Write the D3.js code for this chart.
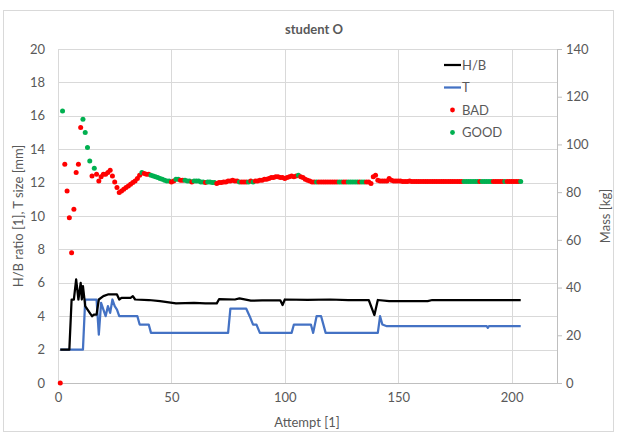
<!DOCTYPE html>
<html>
<head>
<meta charset="utf-8">
<script src="https://cdn.jsdelivr.net/npm/d3@7"></script>
<style>
  body { margin: 0; background: #fff; }
  text { font-family: Lato, "Liberation Sans", sans-serif; fill: #595959; }
</style>
</head>
<body>
<div id="chart"></div>
<script>
// mass per attempt (kg), attempt 1..204
const massKg = [
  0, 114, 91.7, 80.5, 69.3, 54.6, 72.8, 88.2, 91.7, 107.1,
  110.6, 105, 98.7, 93.1, 86.8, 90, 87.5, 84.7, 86.5, 87.5,
  87.5, 88.2, 89.2, 86.8, 84.3, 81.9, 79.8, 80.5, 81.2, 81.9,
  82.6, 83.3, 84, 84.7, 85.7, 87.1, 88.2, 87.8, 87.5, 87.5,
  87.1, 86.8, 86.4, 86.1, 85.7, 85.4, 85, 84.7, 84.7, 84.3,
  84.7, 85.4, 85.4, 85, 85, 85, 84.7, 84.7, 84.3, 84.7,
  84.7, 84.7, 84.3, 84.3, 84, 84.3, 84.3, 84, 84, 83.6,
  84, 84, 84.3, 84.3, 84.7, 84.7, 85, 84.7, 84.7, 84.3,
  84.3, 84.3, 84.3, 84.3, 84.7, 84.3, 84.7, 84.7, 85, 85,
  85.4, 85.4, 85.7, 86.1, 86.1, 86.5, 86.5, 86.1, 86.1, 85.7,
  86.1, 86.5, 86.8, 86.5, 86.8, 87.1, 86.5, 86.1, 85.4, 85,
  84.7, 84.3, 84.3, 84.3, 84.3, 84.3, 84.3, 84.3, 84.3, 84.3,
  84.3, 84.3, 84.3, 84.3, 84.3, 84.3, 84.3, 84.3, 84.3, 84.3,
  84.3, 84.3, 84.3, 84.3, 84.3, 84.3, 84.3, 83.6, 86.5, 87.1,
  85, 84.7, 84.7, 84.7, 84.7, 85.7, 85, 84.7, 84.7, 84.7,
  84.7, 84.5, 84.5, 84.5, 84.7, 84.5, 84.5, 84.5, 84.5, 84.5,
  84.5, 84.5, 84.5, 84.5, 84.5, 84.5, 84.5, 84.5, 84.5, 84.5,
  84.5, 84.5, 84.5, 84.5, 84.5, 84.5, 84.5, 84.5, 84.5, 84.5,
  84.5, 84.5, 84.5, 84.5, 84.5, 84.5, 84.5, 84.5, 84.5, 84.5,
  84.5, 84.5, 84.5, 84.5, 84.5, 84.5, 84.5, 84.5, 84.5, 84.5,
  84.5, 84.5, 84.5, 84.5
];

// B = BAD, G = GOOD, one letter per attempt
const outcome = (
  "BGBBBBBBBB" + "GGGGBGBBBB" + "BBBBBBBBBB" + "BBBBBBGBBB" +
  "GGGGGGGGGB" + "BGGBBGGGBG" + "GGGGBGGGGB" + "BBBBBBBBBG" +
  "BBBGBGBBBB" + "BBBBBBBBBB" + "BBBBBGBBBB" + "BBBGBBBBBB" +
  "BBBGGBBGGG" + "GGBGGBBBBB" + "BBBBBBBBBB" + "BBBBBBBBBB" +
  "BBBBBBBBBB" + "BBBBBBBBGG" + "GGGGGBGGGG" + "GBBBBBGBBB" +
  "BBBG"
).split("");

// line vertices [attempt, value]
const hbLine = [
  [1, 2], [5, 2], [6, 5], [7, 5], [8, 6.2], [9, 5], [10, 6], [10.5, 5], [11, 5.8],
  [12, 4.6], [14, 4.2], [15, 4.0], [16, 4.1], [17, 4.1], [18, 5.0], [20, 5.2],
  [22, 5.3], [26, 5.3], [27, 5.0], [28, 5.1], [32, 5.1], [33, 5.2], [34, 5.0],
  [40, 4.97], [45, 4.9], [52, 4.77], [60, 4.8], [65, 4.77], [70, 4.77], [71, 5.02],
  [78, 5.0], [80, 5.07], [85, 4.93], [90, 4.95], [98, 4.95], [99, 4.67], [100, 5.0],
  [110, 4.98], [120, 5.0], [128, 4.97], [137, 4.97], [139.5, 4.07], [141, 4.97],
  [146, 4.9], [163, 4.9], [165, 4.97], [204, 4.97]
];
const tLine = [
  [1, 2], [11, 2], [12, 5], [17, 5], [18, 2.9], [19, 4.8], [21, 4.0], [22, 4.6],
  [23, 4.2], [24, 5.0], [25, 4.6], [26, 4.4], [27, 4.0], [35, 4.0], [36, 3.5],
  [40, 3.5], [41, 3.0], [75, 3.0], [76, 4.45], [83, 4.45], [84.5, 4.0], [86, 3.5],
  [87.5, 3.5], [89, 3.0], [103, 3.0], [104, 3.5], [111.5, 3.5], [112.5, 3.0],
  [114, 4.0], [116, 4.0], [118, 3.0], [141, 3.0], [142, 4.0], [143, 3.5],
  [145, 3.4], [189, 3.4], [189.5, 3.3], [190, 3.4], [204, 3.4]
];

const xTicks = [0, 50, 100, 150, 200];
const leftTicks = [0, 2, 4, 6, 8, 10, 12, 14, 16, 18, 20];
const rightTicks = [0, 20, 40, 60, 80, 100, 120, 140];
const legendItems = [
  { label: "H/B", kind: "line", color: "#000000" },
  { label: "T", kind: "line", color: "#4472C4" },
  { label: "BAD", kind: "dot", color: "#FF0000" },
  { label: "GOOD", kind: "dot", color: "#00B050" }
];

const width = 617, height = 435;
const plot = { left: 58, right: 557, top: 49, bottom: 383 };

const x = d3.scaleLinear().domain([0, 220]).range([plot.left, plot.right]);
const yLeft = d3.scaleLinear().domain([0, 20]).range([plot.bottom, plot.top]);
const yRight = d3.scaleLinear().domain([0, 140]).range([plot.bottom, plot.top]);

const svg = d3.select("#chart").append("svg")
  .attr("width", width)
  .attr("height", height);

svg.append("rect")
  .attr("x", 3.5).attr("y", 10.5)
  .attr("width", 610).attr("height", 421)
  .attr("fill", "#fff").attr("stroke", "#d9d9d9");

// gridlines
svg.append("g").selectAll("line").data(leftTicks).join("line")
  .attr("x1", plot.left).attr("x2", plot.right)
  .attr("y1", d => Math.round(yLeft(d)) + 0.5).attr("y2", d => Math.round(yLeft(d)) + 0.5)
  .attr("stroke", "#d9d9d9");
svg.append("g").selectAll("line").data(xTicks).join("line")
  .attr("y1", plot.top).attr("y2", plot.bottom)
  .attr("x1", d => Math.round(x(d)) + 0.5).attr("x2", d => Math.round(x(d)) + 0.5)
  .attr("stroke", "#d9d9d9");

// axes
const gx = svg.append("g")
  .attr("transform", `translate(0,${plot.bottom})`)
  .call(d3.axisBottom(x).tickValues(xTicks).tickSize(0).tickPadding(10));
gx.select(".domain").attr("stroke", "#bfbfbf");

const gl = svg.append("g")
  .attr("transform", `translate(${plot.left},0)`)
  .call(d3.axisLeft(yLeft).tickValues(leftTicks).tickSize(0).tickPadding(13));
gl.select(".domain").remove();

const gr = svg.append("g")
  .attr("transform", `translate(${plot.right},0)`)
  .call(d3.axisRight(yRight).tickValues(rightTicks).tickSize(5).tickPadding(4));
gr.select(".domain").attr("stroke", "#bfbfbf");
gr.selectAll(".tick line").attr("stroke", "#bfbfbf");

svg.selectAll(".tick text").attr("font-size", 13).attr("fill", "#595959")
  .style("font-family", "Lato, 'Liberation Sans', sans-serif");

// titles
svg.append("text").attr("x", 314).attr("y", 34)
  .attr("text-anchor", "middle").attr("font-size", 13).attr("font-weight", 700)
  .text("student O");
svg.append("text").attr("x", 307).attr("y", 427)
  .attr("text-anchor", "middle").attr("font-size", 13)
  .text("Attempt [1]");
svg.append("text")
  .attr("transform", `translate(23,216) rotate(-90)`)
  .attr("text-anchor", "middle").attr("font-size", 13)
  .text("H/B ratio [1], T size [mm]");
svg.append("text")
  .attr("transform", `translate(610,216) rotate(-90)`)
  .attr("text-anchor", "middle").attr("font-size", 13)
  .text("Mass [kg]");

// lines
const lineGen = d3.line().x(d => x(d[0])).y(d => yLeft(d[1]));
svg.append("path").datum(tLine)
  .attr("d", lineGen).attr("fill", "none")
  .attr("stroke", "#4472C4").attr("stroke-width", 2.25).attr("stroke-linejoin", "round");
svg.append("path").datum(hbLine)
  .attr("d", lineGen).attr("fill", "none")
  .attr("stroke", "#000").attr("stroke-width", 2.25).attr("stroke-linejoin", "round");

// mass scatter
svg.append("g").selectAll("circle").data(massKg).join("circle")
  .attr("cx", (d, i) => x(i + 1))
  .attr("cy", d => yRight(d))
  .attr("r", 2.5)
  .attr("fill", (d, i) => outcome[i] === "G" ? "#00B050" : "#FF0000");

// legend
const legend = svg.append("g").attr("transform", "translate(444,65)");
const rows = legend.selectAll("g").data(legendItems).join("g")
  .attr("transform", (d, i) => `translate(0,${i * 22.5})`);
rows.filter(d => d.kind === "line").append("line")
  .attr("x1", 0).attr("x2", 17).attr("y1", 0).attr("y2", 0)
  .attr("stroke", d => d.color).attr("stroke-width", 2.25);
rows.filter(d => d.kind === "dot").append("circle")
  .attr("cx", 8.5).attr("cy", 0).attr("r", 2.4)
  .attr("fill", d => d.color);
rows.append("text")
  .attr("x", 18).attr("y", 0).attr("dy", "0.35em")
  .attr("font-size", 13)
  .text(d => d.label);
</script>
</body>
</html>
